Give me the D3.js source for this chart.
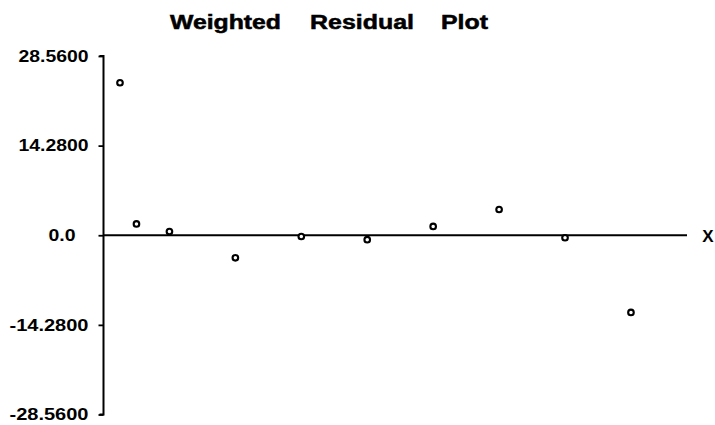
<!DOCTYPE html>
<html>
<head>
<meta charset="utf-8">
<script src="https://cdn.jsdelivr.net/npm/d3@7/dist/d3.min.js"></script>
<style>
  html, body { margin: 0; padding: 0; background: #fff; }
  svg { display: block; }
  text { font-family: "Liberation Sans", Arial, Helvetica, sans-serif; fill: #000; }
</style>
</head>
<body>
<svg id="chart" width="715" height="425"></svg>
<script>
// ---- data ----
const titleWords = ["Weighted", "Residual", "Plot"];
const xValues = [0.25, 0.5, 1, 2, 3, 4, 5, 6, 7, 8];
const residuals = [24.3, 1.8, 0.6, -3.6, -0.2, -0.7, 1.4, 4.1, -0.4, -12.3];
const yTicks = [28.56, 14.28, 0, -14.28, -28.56];
const yTickLabels = ["28.5600", "14.2800", "0.0", "-14.2800", "-28.5600"];
const xAxisLabel = "X";

const svg = d3.select("#chart");

const x = d3.scaleLinear().domain([0, 8.85]).range([103.5, 687]);
const y = d3.scaleLinear().domain([-28.56, 28.56]).range([414.5, 56]);

// title
const titleCenters = [225.5, 362, 464.5];
const titleWidths = [111, 104, 47];
svg.selectAll("text.title").data(titleWords).enter().append("text")
  .attr("class", "title")
  .attr("x", (d, i) => titleCenters[i])
  .attr("y", 29)
  .attr("text-anchor", "middle")
  .attr("font-size", 19.5)
  .attr("font-weight", "bold")
  .attr("stroke", "#000")
  .attr("stroke-width", 0.5)
  .attr("textLength", (d, i) => titleWidths[i])
  .attr("lengthAdjust", "spacingAndGlyphs")
  .text(d => d);

// y axis
const yAxis = d3.axisLeft(y)
  .tickValues(yTicks)
  .tickSize(5)
  .tickPadding(10)
  .tickFormat((d, i) => yTickLabels[i]);

const gy = svg.append("g").attr("transform", `translate(${x(0)},0)`).call(yAxis);
gy.select(".domain").attr("stroke", "#000").attr("stroke-width", 2)
  .attr("d", `M-4,${y(28.56)}H0V${y(-28.56)}H-4`);
gy.selectAll(".tick line").attr("stroke", "#000").attr("stroke-width", 1.8);
gy.selectAll(".tick text")
  .attr("font-size", 16)
  .attr("font-weight", "bold")
  .attr("font-family", "'Liberation Sans', Arial, sans-serif")
  .attr("fill", "#000")
  .attr("textLength", (d, i) => {
    const s = yTickLabels[i];
    if (s === "0.0") return 27;
    return s.startsWith("-") ? 79 : 70;
  })
  .attr("lengthAdjust", "spacingAndGlyphs")
  .attr("x", (d, i) => yTickLabels[i] === "0.0" ? -28 : -15);

// x axis line at zero
svg.append("line")
  .attr("x1", x(0)).attr("x2", x(8.85))
  .attr("y1", y(0)).attr("y2", y(0))
  .attr("stroke", "#000").attr("stroke-width", 2.2);

svg.append("text")
  .attr("x", 708).attr("y", y(0) + 6.5)
  .attr("text-anchor", "middle")
  .attr("font-size", 17)
  .attr("font-weight", "bold")
  .text(xAxisLabel);

// points
const pts = xValues.map((v, i) => ({ x: v, y: residuals[i] }));
svg.selectAll("circle.pt").data(pts).enter().append("circle")
  .attr("class", "pt")
  .attr("cx", d => x(d.x))
  .attr("cy", d => y(d.y))
  .attr("r", 2.8)
  .attr("fill", "#fff")
  .attr("stroke", "#000")
  .attr("stroke-width", 2.1);
</script>
</body>
</html>
